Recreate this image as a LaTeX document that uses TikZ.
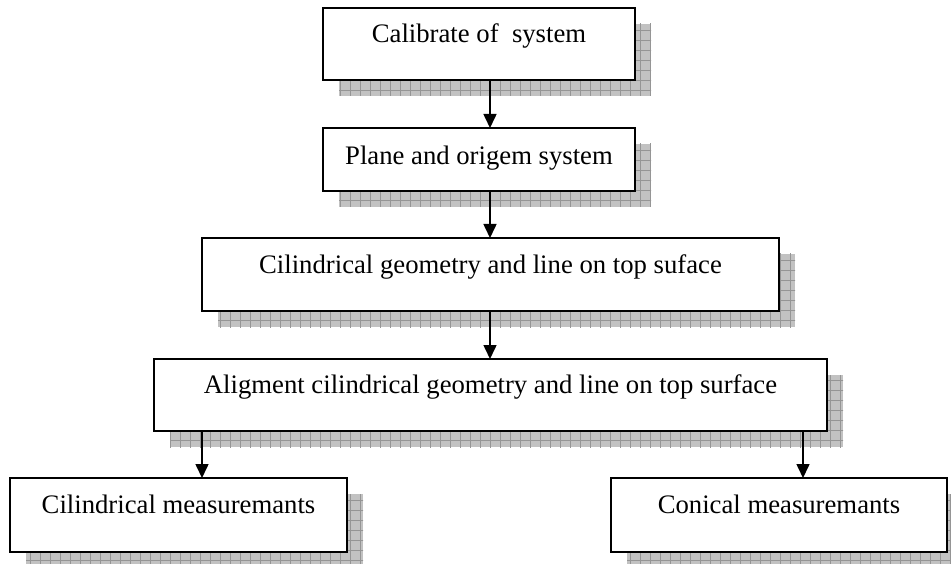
\documentclass[tikz,border=0pt]{standalone}
\usepackage{fontspec}
\setmainfont{Liberation Serif}
\usetikzlibrary{arrows.meta,backgrounds,calc}
\definecolor{shadowfill}{HTML}{C2C2C2}
\definecolor{shadowline}{HTML}{959595}
\tikzset{
  flowbox/.style={draw=black, line width=1.6pt, fill=white, anchor=north,
    inner xsep=0pt, inner ysep=0pt, outer sep=0pt,
    font=\fontsize{26.7}{32}\selectfont},
  flowarrow/.style={line width=1.6pt, -{Triangle[width=13pt,length=14pt]}},
}
\newcommand{\boxshadow}[1]{%
  \begin{scope}
    \clip ([shift={(16,16)}]#1.south west) rectangle ([shift={(16,16)}]#1.north east);
    \fill[shadowfill] ([shift={(16,16)}]#1.south west) rectangle ([shift={(16,16)}]#1.north east);
    \draw[shadowline, line width=0.6pt] ([shift={(6,26)}]#1.south west) grid[step=10pt] ([shift={(26,6)}]#1.north east);
  \end{scope}}
\begin{document}
\begin{tikzpicture}[x=1pt, y=-1pt]
\useasboundingbox (0,0) rectangle (951,564);
\node[flowbox, minimum width=312pt, text height=35pt, text depth=37pt] (b1) at (479,8) {Calibrate of~ system};
\node[flowbox, minimum width=312pt, text height=37pt, text depth=26pt] (b2) at (479,128) {Plane and origem system};
\node[flowbox, minimum width=577pt, text height=35pt, text depth=38pt] (b3) at (490.5,238) {Cilindrical geometry and line on top suface};
\node[flowbox, minimum width=673pt, text height=34pt, text depth=38pt] (b4) at (490.5,359) {Aligment cilindrical geometry and line on top surface};
\node[flowbox, minimum width=337pt, text height=35pt, text depth=39pt] (b5) at (178.5,478) {Cilindrical measuremants};
\node[flowbox, minimum width=336pt, text height=35pt, text depth=39pt] (b6) at (779,478) {Conical measuremants};
\begin{pgfonlayer}{background}
\boxshadow{b1}
\boxshadow{b2}
\boxshadow{b3}
\boxshadow{b4}
\boxshadow{b5}
\boxshadow{b6}
\end{pgfonlayer}
\draw[flowarrow] ([xshift=11pt]b1.south) -- ([xshift=11pt]b2.north);
\draw[flowarrow] ([xshift=11pt]b2.south) -- ([xshift=11pt]b2.south |- b3.north);
\draw[flowarrow] ([xshift=-0.5pt]b3.south) -- ([xshift=-0.5pt]b3.south |- b4.north);
\draw[flowarrow] ([xshift=48pt]b4.south west) -- ([xshift=48pt]b4.south west |- b5.north);
\draw[flowarrow] ([xshift=-24pt]b4.south east) -- ([xshift=-24pt]b4.south east |- b6.north);
\end{tikzpicture}
\end{document}
